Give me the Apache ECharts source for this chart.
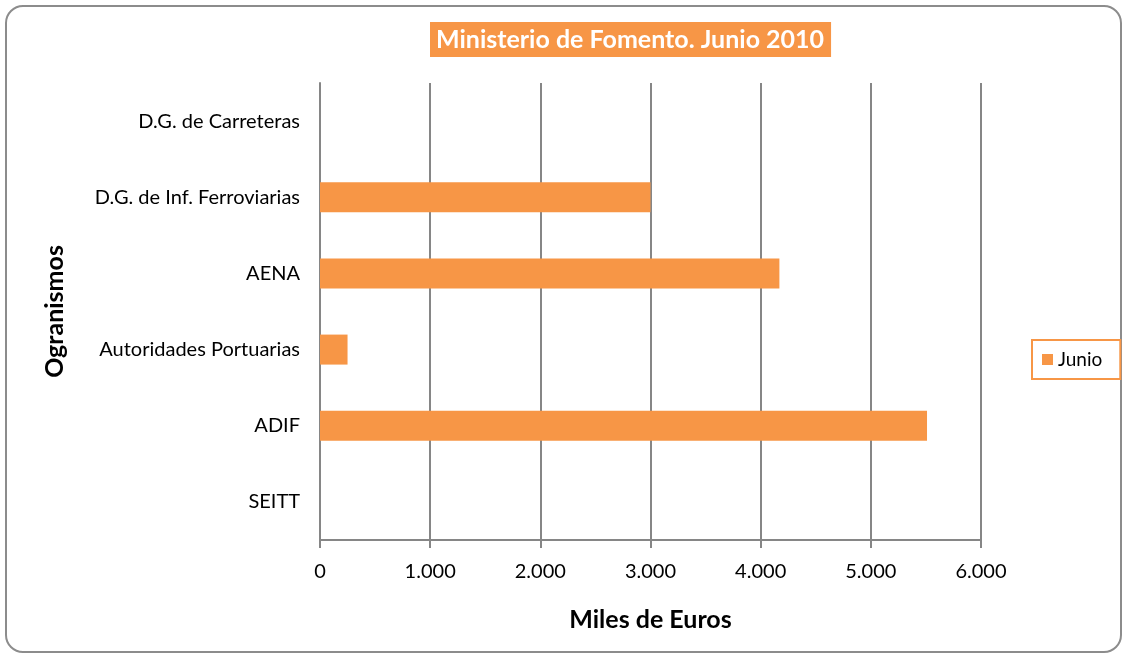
<!DOCTYPE html>
<html lang="es">
<head>
    <meta charset="UTF-8">
    <script src="https://cdn.jsdelivr.net/npm/echarts@6.0.0/dist/echarts.min.js"></script>
    <title>Ministerio de Fomento</title>
    <style>
        body { margin: 0; background: #fff; }
        #frame { position: absolute; left: 5px; top: 5px; width: 1117px; height: 648px;
                 border: 2px solid #8c8c8c; border-radius: 18px; box-sizing: border-box; }
        #chart { position: absolute; left: 0; top: 0; width: 1128px; height: 657px; }
    </style>
</head>
<body>
    <div id="frame"></div>
    <div id="chart"></div>
    <script>
        // datos
        var organismos = ['SEITT', 'ADIF', 'Autoridades Portuarias', 'AENA', 'D.G. de Inf. Ferroviarias', 'D.G. de Carreteras'];
        var junio = [0, 5510, 250, 4170, 3000, 0];
        var ticks = ['0', '1.000', '2.000', '3.000', '4.000', '5.000', '6.000'];

        var chart = echarts.init(document.getElementById('chart'));
        var fuente = 'Lato, "Open Sans", sans-serif';

        var option = {
            animation: false,
            title: {
                text: 'Ministerio de Fomento. Junio 2010',
                left: 430,
                top: 22,
                padding: [5, 7, 5, 6],
                backgroundColor: '#F79646',
                textStyle: { color: '#fff', fontSize: 25, fontWeight: 'bold', fontFamily: fuente }
            },
            legend: {
                data: ['Junio'],
                left: 1032,
                top: 340,
                orient: 'vertical',
                icon: 'rect',
                borderColor: '#F79646',
                borderWidth: 2,
                padding: [10, 18, 10, 10],
                itemWidth: 11,
                itemHeight: 11,
                itemGap: 5,
                textStyle: { fontSize: 19, color: '#000', fontFamily: fuente }
            },
            grid: { left: 320, right: 147, top: 83, bottom: 117 },
            xAxis: {
                type: 'value',
                min: 0,
                max: 6000,
                interval: 1000,
                name: 'Miles de Euros',
                nameLocation: 'middle',
                nameGap: 67,
                nameTextStyle: { fontSize: 25, fontWeight: 'bold', color: '#000', fontFamily: fuente },
                axisLine: { show: true, lineStyle: { color: '#868686', width: 2 } },
                axisTick: { show: true, length: 8, lineStyle: { color: '#868686', width: 2 } },
                axisLabel: {
                    margin: 22, fontSize: 20, color: '#000', fontFamily: fuente,
                    formatter: function (v) { return ticks[Math.round(v / 1000)]; }
                },
                splitLine: { show: true, lineStyle: { color: '#868686', width: 2 } }
            },
            yAxis: {
                type: 'category',
                data: organismos,
                name: 'Ogranismos',
                nameLocation: 'middle',
                nameGap: 253,
                nameRotate: 90,
                nameTextStyle: { fontSize: 25, fontWeight: 'bold', color: '#000', fontFamily: fuente },
                axisLine: { show: true, lineStyle: { color: '#868686', width: 2 } },
                axisTick: { show: false },
                axisLabel: { margin: 20, fontSize: 20, color: '#000', fontFamily: fuente }
            },
            series: [{
                name: 'Junio',
                type: 'bar',
                data: junio,
                barWidth: 30,
                itemStyle: { color: '#F79646' }
            }]
        };

        chart.setOption(option);
    </script>
</body>
</html>
